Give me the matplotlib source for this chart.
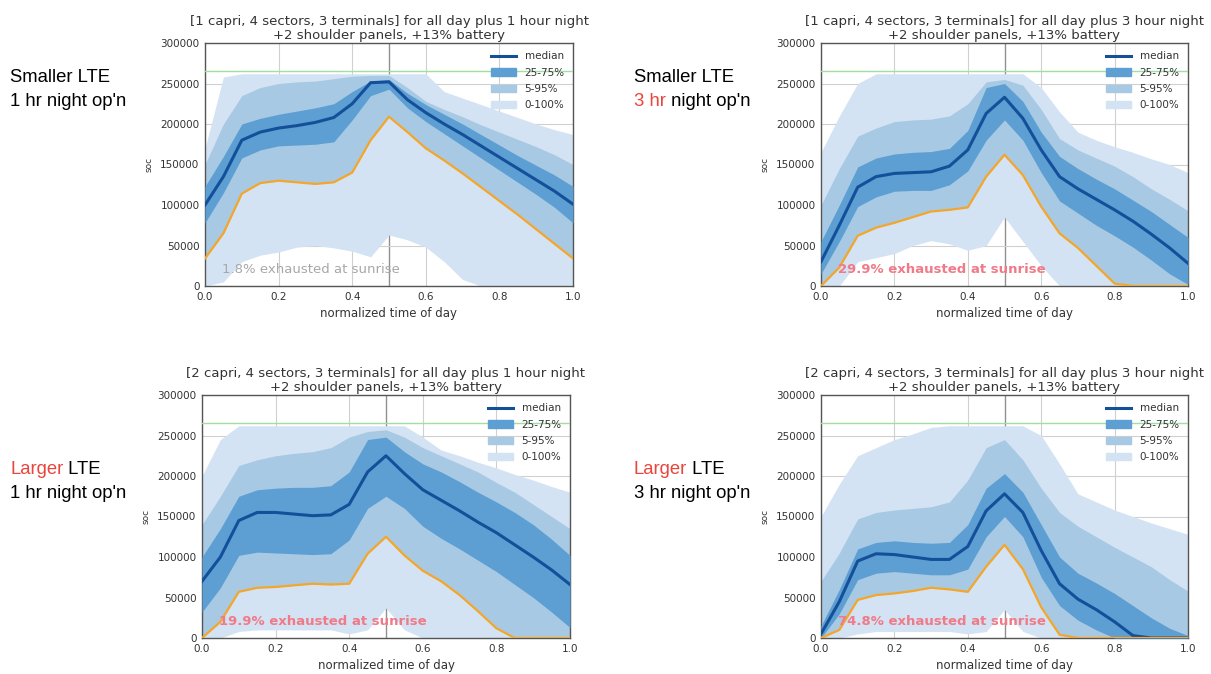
"""
Four-panel battery state-of-charge fan charts (LTE size x night operation).
"""

import matplotlib
matplotlib.use("Agg")
import matplotlib.pyplot as plt
from matplotlib.lines import Line2D
from matplotlib.patches import Patch

TIME = [0.0, 0.05, 0.1, 0.15, 0.2, 0.25, 0.3, 0.35, 0.4, 0.45, 0.5,
        0.55, 0.6, 0.65, 0.7, 0.75, 0.8, 0.85, 0.9, 0.95, 1.0]
CAPACITY = 266000

# smaller LTE, 1 hr night
S1_MED = [100000, 135000, 180000, 190000, 195000, 198000, 202000, 208000, 225000, 251000, 252000,
          230000, 214000, 200000, 187000, 173000, 159000, 145000, 131000, 117000, 101000]
S1_Q25 = [78000, 115000, 158000, 168000, 173000, 174000, 175000, 178000, 205000, 235000, 243000,
          220000, 203000, 188000, 173000, 158000, 143000, 128000, 113000, 97000, 78000]
S1_Q75 = [123000, 160000, 200000, 207000, 212000, 216000, 220000, 225000, 240000, 253000, 255000,
          238000, 224000, 212000, 200000, 187000, 174000, 161000, 149000, 137000, 123000]
S1_P5 = [34000, 65000, 114000, 127000, 130000, 128000, 126000, 128000, 140000, 180000, 209000,
         190000, 170000, 155000, 139000, 122000, 105000, 88000, 70000, 52000, 34000]
S1_P95 = [150000, 200000, 235000, 245000, 250000, 252000, 253000, 256000, 259000, 260000, 260000,
          245000, 228000, 218000, 209000, 199000, 190000, 181000, 172000, 162000, 150000]
S1_MIN = [0, 5000, 30000, 38000, 42000, 48000, 50000, 47000, 43000, 36000, 63000,
          57000, 48000, 30000, 8000, 0, 0, 0, 0, 0, 0]
S1_MAX = [170000, 258000, 262000, 262000, 262000, 262000, 262000, 262000, 262000, 262000, 262000,
          262000, 262000, 240000, 232000, 224000, 216000, 208000, 200000, 193000, 187000]

# smaller LTE, 3 hr night
S3_MED = [30000, 75000, 122000, 135000, 139000, 140000, 141000, 148000, 168000, 213000, 233000,
          207000, 168000, 135000, 120000, 107000, 94000, 80000, 64000, 47000, 28000]
S3_Q25 = [15000, 55000, 98000, 110000, 117000, 118000, 118000, 125000, 142000, 180000, 205000,
          180000, 140000, 105000, 90000, 75000, 62000, 48000, 32000, 15000, 2000]
S3_Q75 = [55000, 100000, 147000, 158000, 163000, 165000, 166000, 170000, 192000, 245000, 250000,
          228000, 190000, 160000, 145000, 132000, 120000, 106000, 92000, 76000, 60000]
S3_P5 = [0, 23000, 62000, 72000, 78000, 85000, 92000, 94000, 97000, 135000, 162000,
         137000, 98000, 65000, 47000, 25000, 3000, 0, 0, 0, 0]
S3_P95 = [100000, 145000, 185000, 195000, 203000, 205000, 206000, 210000, 225000, 252000, 255000,
          248000, 218000, 182000, 168000, 158000, 148000, 135000, 120000, 107000, 93000]
S3_MIN = [0, 0, 30000, 35000, 40000, 50000, 56000, 52000, 44000, 50000, 85000,
          55000, 25000, 0, 0, 0, 0, 0, 0, 0, 0]
S3_MAX = [165000, 210000, 250000, 262000, 262000, 262000, 262000, 262000, 262000, 262000, 262000,
          262000, 245000, 215000, 190000, 180000, 172000, 165000, 157000, 150000, 140000]

# larger LTE, 1 hr night
L1_MED = [70000, 100000, 145000, 155000, 155000, 153000, 151000, 152000, 165000, 205000, 225000,
          203000, 183000, 170000, 157000, 143000, 130000, 115000, 100000, 84000, 66000]
L1_Q25 = [32000, 62000, 102000, 106000, 105000, 104000, 103000, 104000, 121000, 160000, 175000,
          160000, 138000, 123000, 110000, 96000, 82000, 66000, 50000, 32000, 13000]
L1_Q75 = [100000, 135000, 175000, 183000, 185000, 186000, 186000, 188000, 205000, 245000, 248000,
          230000, 215000, 205000, 193000, 180000, 168000, 155000, 140000, 122000, 102000]
L1_P5 = [0, 20000, 57000, 62000, 63000, 65000, 67000, 66000, 67000, 104000, 125000,
         102000, 83000, 70000, 53000, 33000, 12000, 0, 0, 0, 0]
L1_P95 = [140000, 175000, 213000, 220000, 225000, 228000, 230000, 235000, 248000, 255000, 257000,
          248000, 235000, 225000, 215000, 205000, 192000, 180000, 165000, 150000, 135000]
L1_MIN = [0, 0, 8000, 10000, 10000, 10000, 10000, 10000, 5000, 10000, 37000,
          10000, 0, 0, 0, 0, 0, 0, 0, 0, 0]
L1_MAX = [200000, 245000, 262000, 262000, 262000, 262000, 262000, 262000, 262000, 262000, 262000,
          262000, 248000, 232000, 225000, 217000, 210000, 202000, 195000, 187000, 180000]

# larger LTE, 3 hr night
L3_MED = [5000, 45000, 95000, 104000, 103000, 100000, 97000, 97000, 113000, 157000, 178000,
          155000, 108000, 67000, 48000, 35000, 20000, 3000, 0, 0, 0]
L3_Q25 = [0, 30000, 72000, 80000, 82000, 80000, 78000, 78000, 85000, 125000, 150000,
          125000, 75000, 40000, 22000, 10000, 0, 0, 0, 0, 0]
L3_Q75 = [15000, 60000, 110000, 118000, 120000, 118000, 117000, 118000, 140000, 185000, 203000,
          180000, 140000, 100000, 80000, 68000, 55000, 40000, 25000, 12000, 3000]
L3_P5 = [0, 10000, 47000, 53000, 55000, 58000, 62000, 60000, 57000, 88000, 115000,
         85000, 38000, 4000, 0, 0, 0, 0, 0, 0, 0]
L3_P95 = [70000, 105000, 147000, 155000, 158000, 160000, 162000, 168000, 195000, 235000, 245000,
          220000, 185000, 155000, 138000, 125000, 112000, 100000, 88000, 72000, 58000]
L3_MIN = [0, 0, 5000, 8000, 8000, 8000, 8000, 8000, 5000, 8000, 35000,
          8000, 0, 0, 0, 0, 0, 0, 0, 0, 0]
L3_MAX = [150000, 190000, 225000, 235000, 245000, 252000, 260000, 262000, 262000, 262000, 262000,
          262000, 250000, 215000, 178000, 168000, 158000, 150000, 142000, 135000, 128000]

TITLES = [
    "[1 capri, 4 sectors, 3 terminals] for all day plus 1 hour night\n+2 shoulder panels, +13% battery",
    "[1 capri, 4 sectors, 3 terminals] for all day plus 3 hour night\n+2 shoulder panels, +13% battery",
    "[2 capri, 4 sectors, 3 terminals] for all day plus 1 hour night\n+2 shoulder panels, +13% battery",
    "[2 capri, 4 sectors, 3 terminals] for all day plus 3 hour night\n+2 shoulder panels, +13% battery",
]
EXHAUSTED = ["1.8% exhausted at sunrise", "29.9% exhausted at sunrise",
             "19.9% exhausted at sunrise", "74.8% exhausted at sunrise"]

C_MED = "#14509a"
C_IQR = "#5d9fd3"
C_P90 = "#a7c9e4"
C_ALL = "#d4e3f3"
C_ORANGE = "#f4a62a"
C_GREEN = "#a2dea2"
C_RED = "#e8453c"
C_PINK = "#f07a88"

W, H = 1211, 674
fig = plt.figure(figsize=(W / 100, H / 100), dpi=100)

# axes boxes in pixels: left, top, right, bottom
BOXES = [(205, 43, 573, 286), (821, 43, 1188, 286),
         (202, 395, 570, 638), (821, 395, 1188, 638)]
PANELS = [
    (S1_MED, S1_Q25, S1_Q75, S1_P5, S1_P95, S1_MIN, S1_MAX),
    (S3_MED, S3_Q25, S3_Q75, S3_P5, S3_P95, S3_MIN, S3_MAX),
    (L1_MED, L1_Q25, L1_Q75, L1_P5, L1_P95, L1_MIN, L1_MAX),
    (L3_MED, L3_Q25, L3_Q75, L3_P5, L3_P95, L3_MIN, L3_MAX),
]

for i, (box, data) in enumerate(zip(BOXES, PANELS)):
    l, t, r, b = box
    ax = fig.add_axes([l / W, 1 - b / H, (r - l) / W, (b - t) / H])
    med, q25, q75, p5, p95, lo, hi = data

    ax.grid(True, color="#d0d0d0", linewidth=0.8, zorder=0)
    ax.set_axisbelow(True)
    ax.axvline(0.5, color="#909090", linewidth=1.0, zorder=0.5)

    ax.fill_between(TIME, lo, hi, color=C_ALL, linewidth=0, zorder=1)
    ax.fill_between(TIME, p5, p95, color=C_P90, linewidth=0, zorder=2)
    ax.fill_between(TIME, q25, q75, color=C_IQR, linewidth=0, zorder=3)
    ax.plot(TIME, med, color=C_MED, linewidth=2.2, zorder=4)
    ax.plot(TIME, p5, color=C_ORANGE, linewidth=1.6, zorder=4)
    ax.axhline(CAPACITY, color=C_GREEN, linewidth=1.0, zorder=5)

    ax.text(0.045, 20000, EXHAUSTED[i], fontsize=9.5,
            color="#a8a8a8" if i == 0 else C_PINK,
            fontweight="normal" if i == 0 else "bold",
            va="center", ha="left", zorder=6)

    ax.set_xlim(0, 1)
    ax.set_ylim(0, 300000)
    ax.set_xticks([0.0, 0.2, 0.4, 0.6, 0.8, 1.0])
    ax.set_xticklabels(["0.0", "0.2", "0.4", "0.6", "0.8", "1.0"])
    ax.set_yticks([0, 50000, 100000, 150000, 200000, 250000, 300000])
    ax.set_yticklabels(["0", "50000", "100000", "150000", "200000", "250000", "300000"])
    ax.tick_params(length=0, labelsize=7.5, labelcolor="#333333", pad=4)
    for sp in ax.spines.values():
        sp.set_color("#555555")
        sp.set_linewidth(1.0)
    ax.set_xlabel("normalized time of day", fontsize=8.5, color="#333333", labelpad=4)
    ax.set_ylabel("soc", fontsize=6.5, color="#333333", labelpad=5)
    ax.set_title(TITLES[i], fontsize=9.5, color="#333333", pad=3, linespacing=1.1)

    handles = [Line2D([], [], color=C_MED, linewidth=2.2),
               Patch(color=C_IQR), Patch(color=C_P90), Patch(color=C_ALL)]
    ax.legend(handles, ["median", "25-75%", "5-95%", "0-100%"], loc="upper right",
              frameon=False, fontsize=7.5, handlelength=2.4, handleheight=0.7,
              labelspacing=0.6, borderaxespad=0.4, labelcolor="#333333")

# side labels, with coloured words drawn as separate pieces
renderer = fig.canvas.get_renderer()
SIDE_FONT = dict(fontsize=13.3, family="Liberation Sans", va="center", ha="left")


def side_line(x_px, y_px, pieces):
    x = x_px / W
    for text, color in pieces:
        t = fig.text(x, 1 - y_px / H, text, color=color, **SIDE_FONT)
        x = t.get_window_extent(renderer).x1 / W


side_line(10, 78, [("Smaller LTE", "black")])
side_line(10, 101, [("1 hr night op'n", "black")])
side_line(634, 78, [("Smaller LTE", "black")])
side_line(634, 101, [("3 hr", C_RED), ("\u00a0night op'n", "black")])
side_line(10, 470, [("Larger", C_RED), ("\u00a0LTE", "black")])
side_line(10, 493, [("1 hr night op'n", "black")])
side_line(634, 470, [("Larger", C_RED), ("\u00a0LTE", "black")])
side_line(634, 493, [("3 hr night op'n", "black")])

fig.savefig("out.png", dpi=100)
